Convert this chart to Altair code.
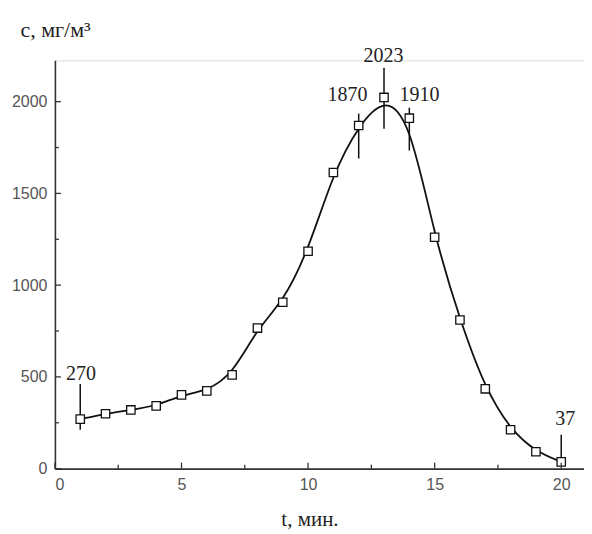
import altair as alt
import pandas as pd

# data
t = [1, 2, 3, 4, 5, 6, 7, 8, 9, 10, 11, 12, 13, 14, 15, 16, 17, 18, 19, 20]
c = [270, 299, 320, 342, 402, 424, 511, 766, 907, 1185, 1614, 1870, 2023, 1910,
     1261, 810, 435, 212, 92, 37]

# annotated points: label text, leader line ends, label anchor
ann_t = [1, 12, 13, 14, 20]
ann_text = ["270", "1870", "2023", "1910", "37"]
ann_lo = [212, 1690, 1853, 1734, 33]
ann_hi = [462, 1935, 2185, 1967, 185]
lab_t = [1.03, 11.56, 12.98, 14.4, 20.16]
lab_c = [484, 2005, 2217, 2005, 239]

x_major = [0, 5, 10, 15, 20]
x_minor = [2.5, 7.5, 12.5, 17.5]
y_major = [0, 500, 1000, 1500, 2000]
y_minor = [250, 750, 1250, 1750]

XMAX = 20.9
YMAX = 2225
W, H = 530, 409

df = pd.DataFrame({"t": t, "c": c})
ann = pd.DataFrame({"t": ann_t, "lo": ann_lo, "hi": ann_hi})
labs = pd.DataFrame({"t": lab_t, "c": lab_c, "txt": ann_text})

xs = alt.Scale(domain=[0, XMAX], nice=False, zero=False)
ys = alt.Scale(domain=[0, YMAX], nice=False)

x_axis = alt.Axis(values=x_major, format="d", tickSize=0, grid=False,
                  domainColor="#333", domainWidth=1.6,
                  labelFont="Liberation Sans", labelFontSize=16,
                  labelColor="#555", labelPadding=8, title="t, мин.",
                  titleFont="Liberation Serif", titleFontSize=21,
                  titleFontWeight="normal", titleColor="#222", titleX=255,
                  titleY=57, titleAlign="center", titleBaseline="alphabetic")
y_axis = alt.Axis(values=y_major, format="d", tickSize=0, grid=False,
                  domainColor="#333", domainWidth=1.6,
                  labelFont="Liberation Sans", labelFontSize=16,
                  labelColor="#555", labelPadding=8, title="c, мг/м³",
                  titleFont="Liberation Serif", titleFontSize=22,
                  titleFontWeight="normal", titleColor="#222", titleAngle=0,
                  titleX=-35, titleY=-24, titleAlign="left",
                  titleBaseline="alphabetic")

base = alt.Chart(df)

line = base.mark_line(interpolate="basis", color="#111", strokeWidth=1.8).encode(
    x=alt.X("t:Q", scale=xs, axis=x_axis),
    y=alt.Y("c:Q", scale=ys, axis=y_axis),
)

leaders = alt.Chart(ann).mark_rule(color="#111", strokeWidth=1.5).encode(
    x=alt.X("t:Q", scale=xs), y=alt.Y("lo:Q", scale=ys), y2="hi:Q"
)

points = base.mark_point(shape="square", size=70, filled=True, fill="white",
                         stroke="#111", strokeWidth=1.3, opacity=1).encode(
    x=alt.X("t:Q", scale=xs), y=alt.Y("c:Q", scale=ys)
)

labels = alt.Chart(labs).mark_text(font="Liberation Serif", fontSize=20,
                                   color="#222", align="center",
                                   baseline="alphabetic").encode(
    x=alt.X("t:Q", scale=xs), y=alt.Y("c:Q", scale=ys), text="txt:N"
)

# inward tick marks (major longer, minor shorter)
xt_major = pd.DataFrame({"v": x_major})
xt_minor = pd.DataFrame({"v": x_minor})
yt_major = pd.DataFrame({"v": y_major})
yt_minor = pd.DataFrame({"v": y_minor})

def xtick(d, ln):
    return alt.Chart(d).mark_rule(color="#333", strokeWidth=1.3).encode(
        x=alt.X("v:Q", scale=xs), y=alt.value(H), y2=alt.value(H - ln))

def ytick(d, ln):
    return alt.Chart(d).mark_rule(color="#333", strokeWidth=1.3).encode(
        y=alt.Y("v:Q", scale=ys), x=alt.value(0), x2=alt.value(ln))

chart = alt.layer(line, leaders, points, labels,
                  xtick(xt_major, 6), xtick(xt_minor, 4),
                  ytick(yt_major, 6), ytick(yt_minor, 4)).properties(
    width=W, height=H,
    autosize=alt.AutoSizeParams(type="none"),
    padding={"left": 47, "top": 52, "right": 0, "bottom": 65},
).configure_view(stroke=None).configure(background="white")

chart.save("out.html", embed_options={"renderer": "svg", "actions": False})
